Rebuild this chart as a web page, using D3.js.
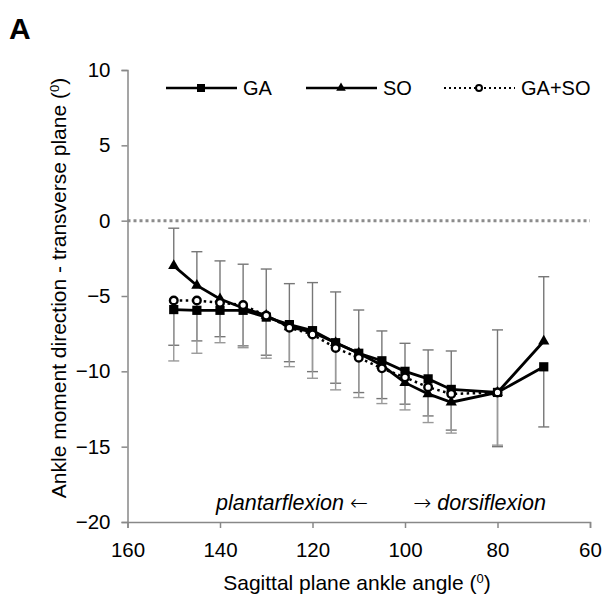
<!DOCTYPE html>
<meta charset="utf-8">
<script src="https://d3js.org/d3.v7.min.js"></script>
<style>
  body { margin: 0; background: #fff; }
  text { font-family: "Liberation Sans", Arial, sans-serif; }
</style>
<div id="chart"></div>
<script>
// data
var angles  = [150, 145, 140, 135, 130, 125, 120, 115, 110, 105, 100, 95, 90, 80, 70];
var gaMean  = [-5.9, -5.95, -5.95, -5.95, -6.4, -6.9, -7.3, -8.1, -8.8, -9.3, -10.0, -10.5, -11.2, -11.4, -9.7];
var gaErr   = [2.37, 2.03, 1.75, 2.36, 2.53, 2.46, 2.72, 2.69, 2.61, 2.51, 2.18, 2.46, 2.7, 3.6, 3.99];
var soMean  = [-3.0, -4.3, -5.2, -5.8, -6.3, -7.05, -7.4, -8.1, -8.8, -9.6, -10.75, -11.5, -12.05, -11.4, -8.0];
var soErr   = [2.5, 2.24, 2.53, 2.91, 3.09, 2.87, 3.29, 3.37, 2.87, 2.28, 2.61, 2.92, 3.4, 4.15, 4.28];
var bothAngles = [150, 145, 140, 135, 130, 125, 120, 115, 110, 105, 100, 95, 90, 80];
var bothMean = [-5.3, -5.3, -5.45, -5.6, -6.3, -7.1, -7.55, -8.45, -9.1, -9.8, -10.4, -11.05, -11.5, -11.4];
var bothErr  = [4.01, 3.5, 2.65, 2.83, 2.83, 2.59, 2.91, 2.78, 2.64, 2.34, 2.16, 2.35, 2.6, 3.5];
var xTicks = [160, 140, 120, 100, 80, 60];
var yTicks = [10, 5, 0, -5, -10, -15, -20];

var W = 603, H = 600;
var svg = d3.select("#chart").append("svg")
    .attr("width", W)
    .attr("height", H);

var x = d3.scaleLinear().domain([160, 60]).range([127.5, 590]);
var y = d3.scaleLinear().domain([-20, 10]).range([522, 70]);

var axisColor = "#888";

// panel letter
svg.append("text")
    .attr("x", 9).attr("y", 39)
    .style("font-size", "30px").style("font-weight", "bold")
    .text("A");

// zero reference line
svg.append("line")
    .attr("x1", x(160)).attr("x2", x(60))
    .attr("y1", y(0)).attr("y2", y(0))
    .attr("stroke", "#8c8c8c").attr("stroke-width", 3)
    .attr("stroke-dasharray", "3,3");

// axes
var yAxis = svg.append("g")
    .attr("transform", "translate(" + x(160) + ",0)")
    .call(d3.axisLeft(y).tickValues(yTicks).tickSize(6).tickPadding(11));
var xAxis = svg.append("g")
    .attr("transform", "translate(0," + y(-20) + ")")
    .call(d3.axisBottom(x).tickValues(xTicks).tickSize(6).tickPadding(14));
[xAxis, yAxis].forEach(function(a) {
  a.select(".domain").attr("stroke", axisColor).attr("stroke-width", 1.5);
  a.selectAll(".tick line").attr("stroke", axisColor).attr("stroke-width", 1.5);
  a.selectAll(".tick text").style("font-size", "20.5px").attr("fill", "#000")
    .style("font-family", "'Liberation Sans', Arial, sans-serif");
});

// axis titles
var xt = svg.append("text")
    .attr("x", 357).attr("y", 590)
    .attr("text-anchor", "middle").style("font-size", "21px")
    .text("Sagittal plane ankle angle (");
xt.append("tspan").attr("baseline-shift", "super").style("font-size", "13px").text("0");
xt.append("tspan").text(")");

var yt = svg.append("text")
    .attr("transform", "translate(65.5,288) rotate(-90)")
    .attr("text-anchor", "middle").style("font-size", "21px")
    .text("Ankle moment direction - transverse plane (");
yt.append("tspan").attr("baseline-shift", "super").style("font-size", "13px").text("0");
yt.append("tspan").text(")");

// direction note
var left = svg.append("text")
    .attr("x", 216).attr("y", 510)
    .style("font-size", "21.5px").style("font-style", "italic")
    .text("plantarflexion ");
left.append("tspan").style("font-family", "'DejaVu Sans'").style("font-style", "normal")
    .style("font-weight", "200").text("\u2190");
var right = svg.append("text")
    .attr("x", 546).attr("y", 510).attr("text-anchor", "end")
    .style("font-size", "21.5px").style("font-style", "italic");
right.append("tspan").style("font-family", "'DejaVu Sans'").style("font-style", "normal")
    .style("font-weight", "200").text("\u2192");
right.append("tspan").text(" dorsiflexion");

// error bars (one sided, as in the original)
function errorBars(xs, means, errs, sign, colour) {
  var g = svg.append("g").attr("stroke", colour).attr("stroke-width", 1.4);
  xs.forEach(function(a, i) {
    var y0 = y(means[i]), y1 = y(means[i] + sign * errs[i]);
    g.append("line").attr("x1", x(a)).attr("x2", x(a)).attr("y1", y0).attr("y2", y1);
    g.append("line").attr("x1", x(a) - 5.5).attr("x2", x(a) + 5.5).attr("y1", y1).attr("y2", y1);
  });
}
errorBars(angles, gaMean, gaErr, -1, "#777");
errorBars(bothAngles, bothMean, bothErr, -1, "#999");
errorBars(angles, soMean, soErr, 1, "#777");

var line = d3.line().x(function(d) { return x(d[0]); }).y(function(d) { return y(d[1]); });
function pairs(xs, ys) { return xs.map(function(a, i) { return [a, ys[i]]; }); }

var square = d3.symbol().type(d3.symbolSquare).size(85);
var triangle = d3.symbol().type(d3.symbolTriangle).size(55);

// GA
svg.append("path").datum(pairs(angles, gaMean)).attr("d", line)
    .attr("fill", "none").attr("stroke", "#000").attr("stroke-width", 2.8);
svg.selectAll(".ga").data(pairs(angles, gaMean)).enter().append("path")
    .attr("class", "ga").attr("d", square)
    .attr("transform", function(d) { return "translate(" + x(d[0]) + "," + y(d[1]) + ")"; });

// SO
svg.append("path").datum(pairs(angles, soMean)).attr("d", line)
    .attr("fill", "none").attr("stroke", "#000").attr("stroke-width", 2.8);
svg.selectAll(".so").data(pairs(angles, soMean)).enter().append("path")
    .attr("class", "so").attr("d", triangle)
    .attr("transform", function(d) { return "translate(" + x(d[0]) + "," + y(d[1]) + ")"; });

// GA+SO
svg.append("path").datum(pairs(bothAngles, bothMean)).attr("d", line)
    .attr("fill", "none").attr("stroke", "#000").attr("stroke-width", 2.5)
    .attr("stroke-dasharray", "2.5,3.5");
svg.selectAll(".both").data(pairs(bothAngles, bothMean)).enter().append("circle")
    .attr("class", "both")
    .attr("cx", function(d) { return x(d[0]); })
    .attr("cy", function(d) { return y(d[1]); })
    .attr("r", 3.8).attr("fill", "#fff").attr("stroke", "#000").attr("stroke-width", 2.4);

// legend
var legend = [
  {name: "GA", x: 166, dash: null, mark: "square"},
  {name: "SO", x: 306, dash: null, mark: "triangle"},
  {name: "GA+SO", x: 444, dash: "2,3", mark: "circle"}
];
var ly = 88;
legend.forEach(function(l) {
  var g = svg.append("g");
  g.append("line").attr("x1", l.x).attr("x2", l.x + 71).attr("y1", ly).attr("y2", ly)
    .attr("stroke", "#000").attr("stroke-width", l.dash ? 2 : 2.5)
    .attr("stroke-dasharray", l.dash);
  var cx = l.x + 35;
  if (l.mark === "square") {
    g.append("path").attr("d", d3.symbol().type(d3.symbolSquare).size(64)())
      .attr("transform", "translate(" + cx + "," + ly + ")");
  } else if (l.mark === "triangle") {
    g.append("path").attr("d", d3.symbol().type(d3.symbolTriangle).size(40)())
      .attr("transform", "translate(" + cx + "," + ly + ")");
  } else {
    g.append("circle").attr("cx", cx).attr("cy", ly).attr("r", 3)
      .attr("fill", "#fff").attr("stroke", "#000").attr("stroke-width", 2);
  }
  g.append("text").attr("x", l.x + 77).attr("y", ly + 7)
    .style("font-size", "20px").text(l.name);
});
</script>
